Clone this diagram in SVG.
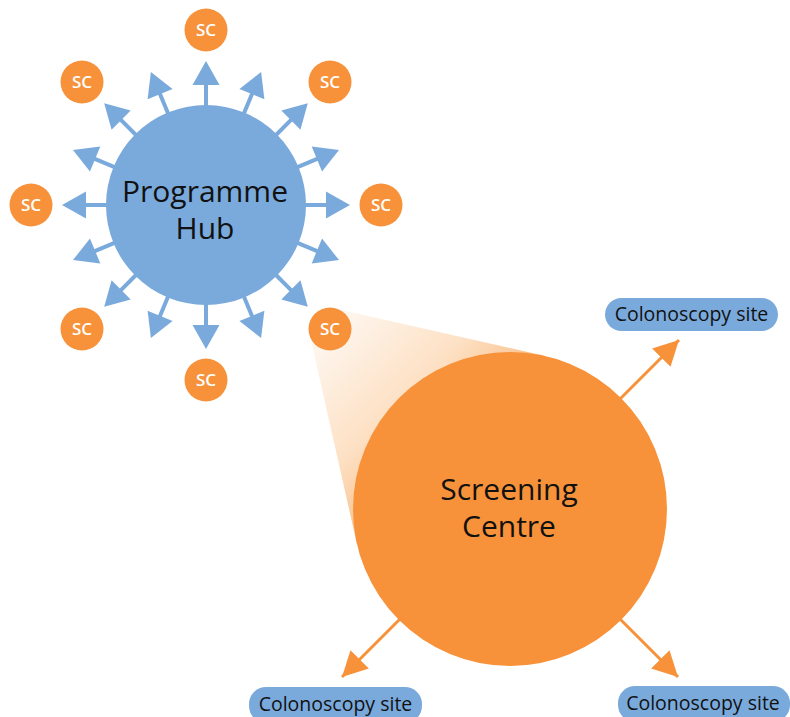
<svg xmlns="http://www.w3.org/2000/svg" xmlns:xlink="http://www.w3.org/1999/xlink" width="790" height="717" viewBox="0 0 790 717">
  <style>
    .blue { fill: #7aaadc; }
    .orange { fill: #f7923a; }
    .sc-text { font-family: "Open Sans", "Noto Sans", sans-serif; font-size: 17px; font-weight: 600; fill: #ffffff; text-anchor: middle; }
    .big-text { font-family: "Open Sans", "Noto Sans", sans-serif; font-size: 30px; fill: #111111; text-anchor: middle; }
    .pill-text { font-family: "Open Sans", "Noto Sans", sans-serif; font-size: 19.5px; fill: #111111; text-anchor: middle; }
    .orange-line { stroke: #f7923a; stroke-width: 3; fill: none; }
  </style>
  <defs>
    <g id="hubArrow">
      <rect x="-2" y="-121" width="4" height="22" fill="#7aaadc"/>
      <polygon points="0,-144 -13.5,-120 13.5,-120" fill="#7aaadc"/>
    </g>
    <marker id="orangeHead" markerUnits="userSpaceOnUse" markerWidth="26" markerHeight="26" refX="25" refY="13" orient="auto" viewBox="0 0 26 26">
      <path d="M0,0 L25,13 L0,26 z" fill="#f7923a"/>
    </marker>
    <linearGradient id="coneGrad" gradientUnits="userSpaceOnUse" x1="330" y1="329" x2="470" y2="470">
      <stop offset="0" stop-color="#fef6ee"/>
      <stop offset="0.5" stop-color="#fde1c5"/>
      <stop offset="1" stop-color="#f8b273"/>
    </linearGradient>
  </defs>

  <!-- cone from SC to Screening Centre -->
  <polygon id="cone" points="334.6,308.5 544.5,355.8 510,509 356.8,543.5 309.5,333.6" fill="url(#coneGrad)"/>

  <g id="connectors">
    <use xlink:href="#hubArrow" transform="translate(206,205) rotate(0)"/>
    <use xlink:href="#hubArrow" transform="translate(206,205) rotate(22.5)"/>
    <use xlink:href="#hubArrow" transform="translate(206,205) rotate(45)"/>
    <use xlink:href="#hubArrow" transform="translate(206,205) rotate(67.5)"/>
    <use xlink:href="#hubArrow" transform="translate(206,205) rotate(90)"/>
    <use xlink:href="#hubArrow" transform="translate(206,205) rotate(112.5)"/>
    <use xlink:href="#hubArrow" transform="translate(206,205) rotate(135)"/>
    <use xlink:href="#hubArrow" transform="translate(206,205) rotate(157.5)"/>
    <use xlink:href="#hubArrow" transform="translate(206,205) rotate(180)"/>
    <use xlink:href="#hubArrow" transform="translate(206,205) rotate(202.5)"/>
    <use xlink:href="#hubArrow" transform="translate(206,205) rotate(225)"/>
    <use xlink:href="#hubArrow" transform="translate(206,205) rotate(247.5)"/>
    <use xlink:href="#hubArrow" transform="translate(206,205) rotate(270)"/>
    <use xlink:href="#hubArrow" transform="translate(206,205) rotate(292.5)"/>
    <use xlink:href="#hubArrow" transform="translate(206,205) rotate(315)"/>
    <use xlink:href="#hubArrow" transform="translate(206,205) rotate(337.5)"/>
    <line class="orange-line" x1="610" y1="409" x2="679" y2="340" marker-end="url(#orangeHead)"/>
    <line class="orange-line" x1="410" y1="609" x2="342" y2="677" marker-end="url(#orangeHead)"/>
    <line class="orange-line" x1="610" y1="609" x2="678" y2="677" marker-end="url(#orangeHead)"/>
  </g>

  <g id="hub">
    <circle class="blue" cx="206" cy="205" r="100"/>
    <text class="big-text"><tspan x="205" y="201.5">Programme</tspan><tspan x="205" y="238.5">Hub</tspan></text>
  </g>

  <g id="sc-top"><circle class="orange" cx="206" cy="30" r="21.5"/><text class="sc-text" x="206" y="36">SC</text></g>
  <g id="sc-topright"><circle class="orange" cx="330" cy="82" r="21.5"/><text class="sc-text" x="330" y="88">SC</text></g>
  <g id="sc-right"><circle class="orange" cx="381" cy="205" r="21.5"/><text class="sc-text" x="381" y="211">SC</text></g>
  <g id="sc-bottomright"><circle class="orange" cx="330" cy="329" r="21.5"/><text class="sc-text" x="330" y="335">SC</text></g>
  <g id="sc-bottom"><circle class="orange" cx="206" cy="380" r="21.5"/><text class="sc-text" x="206" y="386">SC</text></g>
  <g id="sc-bottomleft"><circle class="orange" cx="82" cy="329" r="21.5"/><text class="sc-text" x="82" y="335">SC</text></g>
  <g id="sc-left"><circle class="orange" cx="31" cy="205" r="21.5"/><text class="sc-text" x="31" y="211">SC</text></g>
  <g id="sc-topleft"><circle class="orange" cx="82" cy="82" r="21.5"/><text class="sc-text" x="82" y="88">SC</text></g>

  <g id="screening-centre">
    <circle class="orange" cx="510" cy="509" r="157"/>
    <text class="big-text"><tspan x="509" y="500">Screening</tspan><tspan x="509" y="537">Centre</tspan></text>
  </g>

  <g id="colonoscopy-topright">
    <rect class="blue" x="605" y="298" width="173" height="33" rx="16.5"/>
    <text class="pill-text" x="691.5" y="321">Colonoscopy site</text>
  </g>
  <g id="colonoscopy-bottomleft">
    <rect class="blue" x="249" y="687" width="173" height="36" rx="17"/>
    <text class="pill-text" x="335.5" y="711">Colonoscopy site</text>
  </g>
  <g id="colonoscopy-bottomright">
    <rect class="blue" x="618" y="686" width="172" height="36" rx="17"/>
    <text class="pill-text" x="703" y="710">Colonoscopy site</text>
  </g>
</svg>
